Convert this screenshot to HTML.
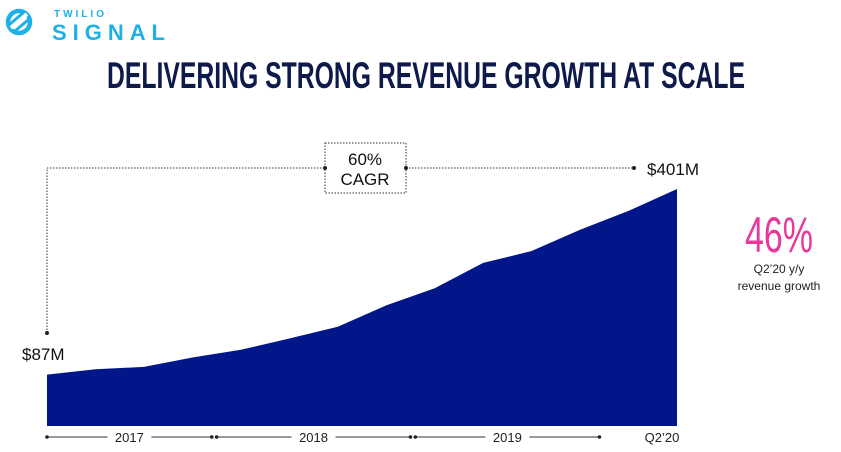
<!DOCTYPE html>
<html><head><meta charset="utf-8"><style>
body{margin:0;width:841px;height:452px;overflow:hidden;background:#fff;font-family:"Liberation Sans",sans-serif;position:relative}
</style></head><body>
<svg width="841" height="452" style="position:absolute;left:0;top:0">
  <g>
    <circle cx="19" cy="22" r="11" fill="none" stroke="#1fb0e8" stroke-width="4.5"/>
    <path d="M11 28 L27 14" stroke="#fff" stroke-width="4"/>
    <path d="M10 24 L23 13 M15 31 L28 20" stroke="#1fb0e8" stroke-width="3"/>
    <text x="54" y="17" font-size="10" font-weight="bold" fill="#1fb0e8" letter-spacing="3" font-family="Liberation Sans, sans-serif">TWILIO</text>
    <text x="52" y="40" font-size="22" font-weight="bold" fill="#1fb0e8" letter-spacing="7" textLength="120" font-family="Liberation Sans, sans-serif">SIGNAL</text>
  </g>
  <text x="426" y="88" text-anchor="middle" font-size="37" font-weight="bold" fill="#0d1a4a" textLength="638" lengthAdjust="spacingAndGlyphs" font-family="Liberation Sans Narrow, Liberation Sans, sans-serif">DELIVERING STRONG REVENUE GROWTH AT SCALE</text>
  <g id="area"></g>
  <g stroke="#333" stroke-dasharray="1.5,1.5" fill="none">
    <path d="M47 333 V168 H325 M406 168 H634"/>
    <rect x="325" y="143" width="81" height="50"/>
  </g>
  <g fill="#222">
    <circle cx="47" cy="333" r="2"/><circle cx="325" cy="168" r="2"/><circle cx="406" cy="168" r="2"/><circle cx="634" cy="168" r="2"/>
  </g>
  <text x="365" y="165" text-anchor="middle" font-size="17" fill="#111">60%</text>
  <text x="365" y="185" text-anchor="middle" font-size="17" fill="#111">CAGR</text>
  <text x="647" y="175" font-size="17" fill="#111">$401M</text>
  <text x="22" y="360" font-size="17" fill="#111">$87M</text>
  <text x="779" y="252" text-anchor="middle" font-size="50" fill="#e8399a" textLength="68" lengthAdjust="spacingAndGlyphs" font-family="Liberation Sans Narrow, Liberation Sans, sans-serif">46%</text>
  <text x="779" y="273" text-anchor="middle" font-size="12" fill="#222">Q2’20 y/y</text>
  <text x="779" y="290" text-anchor="middle" font-size="12" fill="#222">revenue growth</text>
  <g id="xaxis"></g>
</svg>
<script>
const quarters=["Q1'17","Q2'17","Q3'17","Q4'17","Q1'18","Q2'18","Q3'18","Q4'18","Q1'19","Q2'19","Q3'19","Q4'19","Q1'20","Q2'20"];
const revenue=[87,96,100,116,129,148,168,204,233,276,296,332,364,401];
const years=["2017","2018","2019"];
const yearStart=[0,3.5,7.6];
const yearEnd=[3.4,7.5,11.4];
const NS="http://www.w3.org/2000/svg";
const x0=47,x1=677,base=426,yTop=189;
const xs=i=>x0+(x1-x0)*i/(quarters.length-1);
const ys=v=>base-(base-yTop)*v/401;
let d="M"+xs(0)+" "+base;
revenue.forEach((v,i)=>{d+=" L"+xs(i)+" "+ys(v);});
d+=" L"+xs(revenue.length-1)+" "+base+" Z";
const p=document.createElementNS(NS,"path");
p.setAttribute("d",d);p.setAttribute("fill","#011689");


document.getElementById("area").appendChild(p);
const ax=document.getElementById("xaxis");
years.forEach((y,k)=>{
  const a=xs(yearStart[k]), b=xs(yearEnd[k]);
  const mid=(a+b)/2;
  const g=document.createElementNS(NS,"g");
  
  
  g.innerHTML=`<line x1="${a}" y1="437" x2="${mid-22}" y2="437" stroke="#333"/><line x1="${mid+22}" y1="437" x2="${b}" y2="437" stroke="#333"/><circle cx="${a}" cy="437" r="1.8" fill="#222"/><circle cx="${b}" cy="437" r="1.8" fill="#222"/><text x="${mid}" y="442" text-anchor="middle" font-size="13" fill="#222">${y}</text>`;
  ax.appendChild(g);
});
const t=document.createElementNS(NS,"text");
t.setAttribute("x",662);t.setAttribute("y",442);t.setAttribute("font-size",13);t.setAttribute("fill","#222");
t.setAttribute("text-anchor","middle");
t.textContent="Q2’20";


ax.appendChild(t);
</script>
</body></html>
